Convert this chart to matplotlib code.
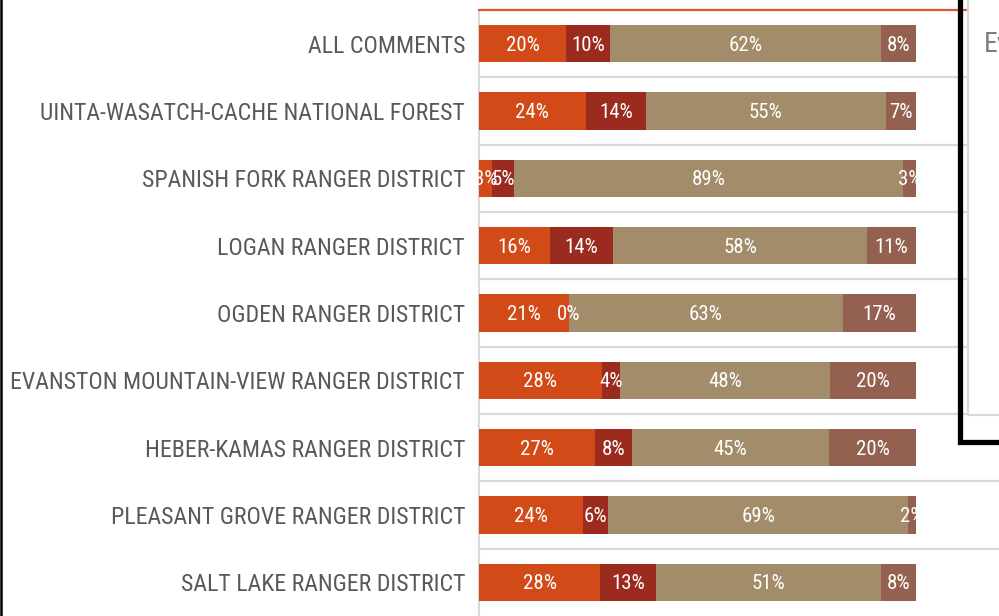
import matplotlib
matplotlib.use("Agg")
import matplotlib.pyplot as plt
from matplotlib.lines import Line2D
from matplotlib.patches import Rectangle
import numpy as np

# categories, top to bottom
categories = [
    "ALL COMMENTS",
    "UINTA-WASATCH-CACHE NATIONAL FOREST",
    "SPANISH FORK RANGER DISTRICT",
    "LOGAN RANGER DISTRICT",
    "OGDEN RANGER DISTRICT",
    "EVANSTON MOUNTAIN-VIEW RANGER DISTRICT",
    "HEBER-KAMAS RANGER DISTRICT",
    "PLEASANT GROVE RANGER DISTRICT",
    "SALT LAKE RANGER DISTRICT",
]
# shares (%)
seg1 = [20.0, 24.4, 3.0, 16.3, 20.6, 28.1, 26.6, 23.8, 27.8]
seg2 = [10.0, 13.8, 5.0, 14.4, 0.0, 4.2, 8.4, 5.8, 12.8]
seg3 = [62.0, 54.9, 89.0, 58.1, 62.7, 48.0, 45.1, 68.6, 51.3]
seg4 = [8.0, 6.9, 3.0, 11.2, 16.7, 19.7, 19.9, 1.8, 8.1]

colors = ["#D24A18", "#9B2B1F", "#A28C6A", "#946150"]
label_font = ["Roboto Condensed", "DejaVu Sans"]

W, H = 999, 616
fig = plt.figure(figsize=(W / 100, H / 100), dpi=100)

def fx(px):
    return px / W

def fy(py):
    return 1 - py / H

ax = fig.add_axes([fx(479), 0, fx(999) - fx(479), (H - 10) / H])

y = np.arange(len(categories))
left = np.zeros(len(categories))
for vals, c in zip([seg1, seg2, seg3, seg4], colors):
    vals = np.array(vals)
    ax.barh(y, vals, left=left, height=0.55, color=c, zorder=3)
    for yi, l, v in zip(y, left, vals):
        ax.text(l + v / 2, yi + 0.02, f"{round(v)}%", ha="center", va="center",
                color="white", fontsize=15, family=label_font, zorder=4)
    left = left + vals

ax.set_xlim(0, 100 * (W - 479) / 437)
ax.set_ylim(len(categories) - 0.5, -0.5)
ax.set_xticks([])
ax.set_yticks(y)
ax.set_yticklabels(categories, family=label_font, fontsize=17.2, color="#595959")
ax.tick_params(axis="y", length=0, pad=10)

# horizontal separators between rows
for k in range(1, len(categories)):
    ax.axhline(k - 0.5, color="#D9D9D9", lw=1.6, zorder=1)

for s in ["right", "bottom"]:
    ax.spines[s].set_visible(False)
ax.spines["left"].set_color("#D9D9D9")
ax.spines["left"].set_linewidth(1.5)
ax.spines["top"].set_color("#E4572E")
ax.spines["top"].set_linewidth(1.6)

# panel on the right, partly cut off
fig.add_artist(Rectangle((fx(968), fy(415)), 1 - fx(968), fy(0) - fy(415),
                         transform=fig.transFigure, facecolor="white",
                         edgecolor="none", zorder=5))
fig.add_artist(Rectangle((fx(960), fy(442)), fx(968) - fx(960), fy(415) - fy(442),
                         transform=fig.transFigure, facecolor="white",
                         edgecolor="none", zorder=5))
fig.add_artist(Line2D([fx(968), fx(968), 1], [1, fy(415), fy(415)],
                      transform=fig.transFigure, color="#D9D9D9", lw=1.5, zorder=6))
fig.text(fx(984), fy(45), "Ev", fontsize=20, color="#7F7F7F", family=label_font,
         ha="left", va="center", zorder=7)
fig.add_artist(Line2D([fx(959.5), fx(959.5), 1], [1, fy(442), fy(442)],
                      transform=fig.transFigure, color="black", lw=3.8,
                      solid_joinstyle="miter", zorder=8))
fig.add_artist(Line2D([fx(1), fx(1)], [0, 1], transform=fig.transFigure,
                      color="black", lw=1.8, zorder=8))

fig.savefig("out.png", dpi=100, facecolor="white")
